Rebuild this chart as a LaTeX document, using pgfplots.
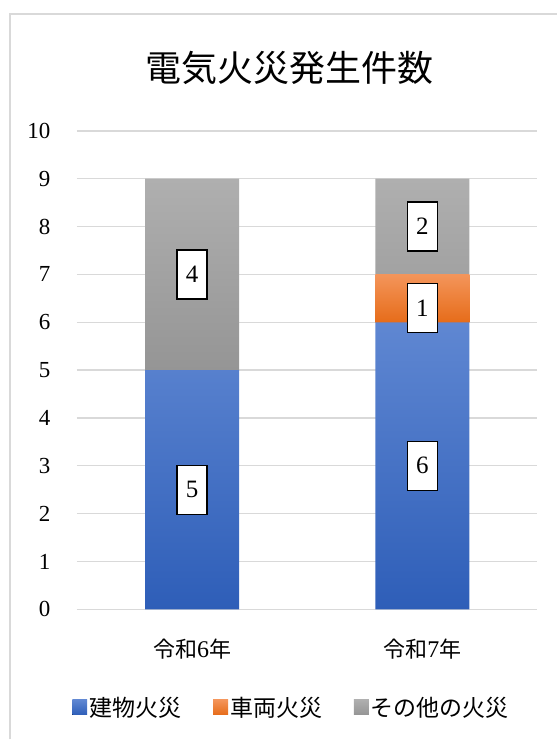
\documentclass[border=0pt]{standalone}
\usepackage{pgfplots}
\pgfplotsset{compat=1.18}
\usepackage{fontspec}
\setmainfont{Liberation Serif}
\newfontfamily\cjk{Noto Sans CJK JP}
\definecolor{gridc}{HTML}{D9D9D9}
\definecolor{blueT}{HTML}{5F87D2}
\definecolor{blueB}{HTML}{2E5EB8}
\definecolor{orT}{HTML}{F4955A}
\definecolor{orB}{HTML}{E66C1A}
\definecolor{grT}{HTML}{AFAFAF}
\definecolor{grB}{HTML}{959595}
\newcommand\dg[1]{{\fontsize{24}{24}\selectfont #1}}
\begin{document}
\begin{tikzpicture}
\path (-77pt,-130pt) rectangle (481pt,610pt);
\draw[gridc, line width=1.5pt] (-67pt,-130pt) -- (-67pt,596pt) -- (481pt,596pt);
\node[anchor=center] at (213pt,542pt) {\fontsize{36}{36}\cjk 電気火災発生件数};
\begin{axis}[
  at={(0pt,0pt)}, anchor=south west,
  scale only axis, width=461pt, height=479pt,
  ybar stacked, bar width=94pt,
  xmin=-0.5, xmax=1.5, ymin=0, ymax=10,
  xtick={0,1},
  xticklabels={{\cjk 令和}\dg{6}{\cjk 年},{\cjk 令和}\dg{7}{\cjk 年}},
  ytick={0,1,2,3,4,5,6,7,8,9,10},
  yticklabels={0,1,2,3,4,5,6,7,8,9,10},
  axis line style={draw=none},
  major tick length=0pt,
  ymajorgrids,
  major grid style={gridc, line width=1.3pt},
  yticklabel style={font=\fontsize{23}{23}\selectfont, xshift=-23pt},
  xticklabel style={font=\fontsize{22}{22}\selectfont, yshift=-26pt},
  legend style={at={(0.466,-0.2046)}, anchor=center, draw=none, fill=none,
    legend columns=-1, font=\fontsize{23}{23}\selectfont\cjk,
    /tikz/every even column/.append style={column sep=30pt}},
  legend image code/.code={\fill[#1] (0pt,-7.5pt) rectangle (15pt,7.5pt);},
]
\addplot[draw=none, top color=blueT, bottom color=blueB] coordinates {(0,5) (1,6)};
\addplot[draw=none, top color=orT, bottom color=orB] coordinates {(0,0) (1,1)};
\addplot[draw=none, top color=grT, bottom color=grB] coordinates {(0,4) (1,2)};
\legend{建物火災,車両火災,その他の火災}
\end{axis}
\begin{axis}[
  at={(0pt,0pt)}, anchor=south west,
  scale only axis, width=461pt, height=479pt,
  xmin=-0.5, xmax=1.5, ymin=0, ymax=10, hide axis]
\addplot[only marks, mark=none, point meta=explicit symbolic,
  nodes near coords={\pgfplotspointmeta},
  nodes near coords align={center},
  every node near coord/.append style={draw=black, line width=1.3pt, fill=white,
    minimum width=30pt, minimum height=49pt, inner sep=0pt, anchor=center,
    font=\fontsize{25}{25}\selectfont}]
  coordinates {(0,2.5) [5] (0,7) [4] (1,3) [6] (1,6.3) [1] (1,8) [2]};
\end{axis}
\end{tikzpicture}
\end{document}
